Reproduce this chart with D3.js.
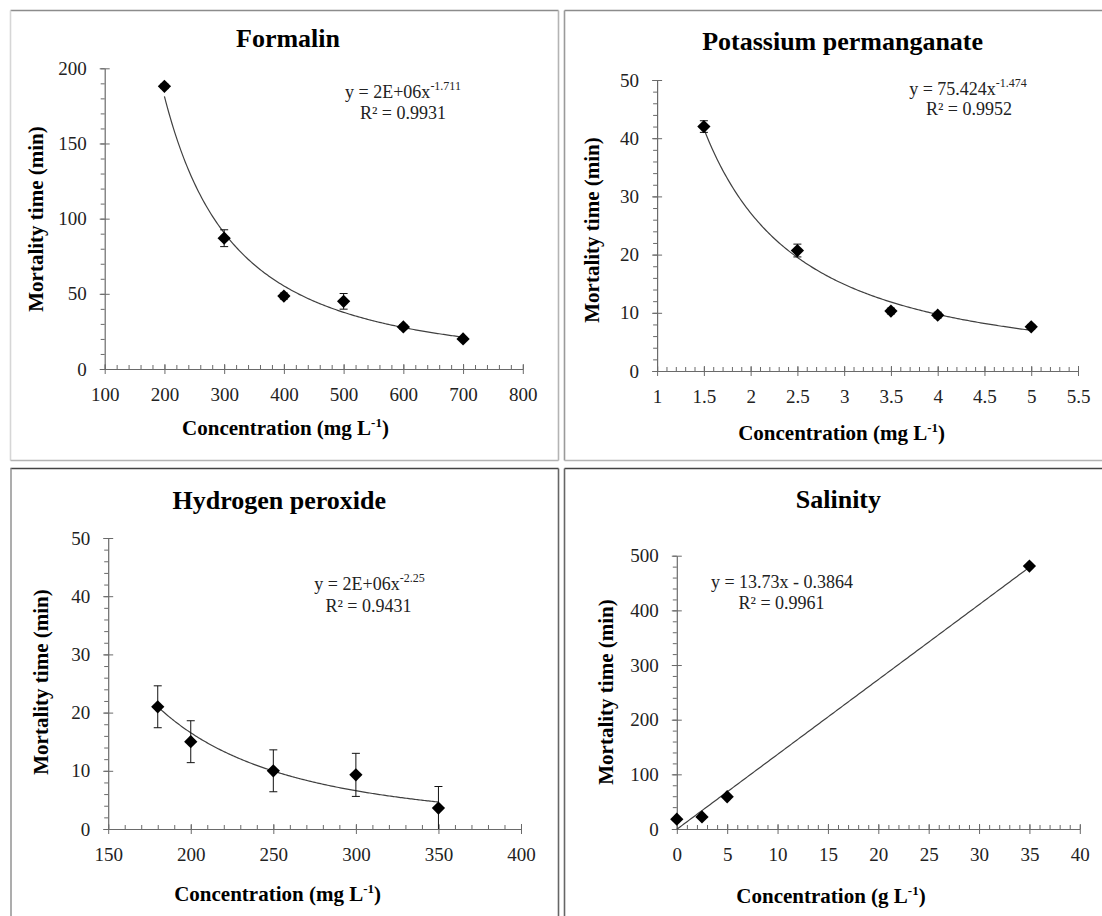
<!DOCTYPE html>
<html><head><meta charset="utf-8">
<script src="https://cdn.jsdelivr.net/npm/d3@7"></script>
<style>
body{margin:0;background:#fff}
svg{display:block}
</style>
</head><body>
<svg id="c" width="1102" height="916" font-family="Liberation Serif"></svg>
<script>
// ---------- data ----------
const formalinConc = [200, 300, 400, 500, 600, 700];
const formalinTime = [188, 87, 48.5, 45, 28, 20];
const formalinErr  = [1.5, 5.6, 2, 5.2, 1.5, 1];

const kmno4Conc = [1.5, 2.5, 3.5, 4, 5];
const kmno4Time = [42, 20.7, 10.3, 9.6, 7.6];
const kmno4Err  = [1, 1.1, 0.5, 0.5, 0.4];

const h2o2Conc = [180, 200, 250, 300, 350];
const h2o2Time = [21, 15, 10, 9.3, 3.6];
const h2o2Err  = [3.6, 3.6, 3.6, 3.7, 3.7];

const salinityConc = [0, 2.5, 5, 35];
const salinityTime = [18, 22, 59, 481];
const salinityErr  = [0.5, 0.5, 1, 2];

const formalinXTicks = [100, 200, 300, 400, 500, 600, 700, 800];
const formalinYTicks = [0, 50, 100, 150, 200];
const kmno4XTicks = [1, 1.5, 2, 2.5, 3, 3.5, 4, 4.5, 5, 5.5];
const kmno4YTicks = [0, 10, 20, 30, 40, 50];
const h2o2XTicks = [150, 200, 250, 300, 350, 400];
const h2o2YTicks = [0, 10, 20, 30, 40, 50];
const salinityXTicks = [0, 5, 10, 15, 20, 25, 30, 35, 40];
const salinityYTicks = [0, 100, 200, 300, 400, 500];

const titles = ["Formalin", "Potassium permanganate", "Hydrogen peroxide", "Salinity"];
const equations = [["y = 2E+06x", "-1.711"], ["y = 75.424x", "-1.474"], ["y = 2E+06x", "-2.25"], ["y = 13.73x - 0.3864", ""]];
const r2Labels = ["R² = 0.9931", "R² = 0.9952", "R² = 0.9431", "R² = 0.9961"];
const xUnits = ["mg L", "mg L", "mg L", "g L"];
const yLabel = "Mortality time (min)";

// ---------- layout ----------
const FONT = 'Liberation Serif';
const panels = [
  {x: formalinConc, y: formalinTime, e: formalinErr, xt: formalinXTicks, yt: formalinYTicks, xMinor: 20, yMinor: 10, fit: 'power',
   px: [104.7, 522.8], py: [369, 68.3], title: [288, 47], xlab: [285.5, 435], ylab: [43, 219], eq: [403, 97.5], r2: [403, 118.5]},
  {x: kmno4Conc, y: kmno4Time, e: kmno4Err, xt: kmno4XTicks, yt: kmno4YTicks, xMinor: 0.1, yMinor: 2, fit: 'power',
   px: [657.1, 1078], py: [371, 80], title: [842.6, 50], xlab: [841.6, 440], ylab: [599, 230], eq: [968, 95], r2: [969, 115]},
  {x: h2o2Conc, y: h2o2Time, e: h2o2Err, xt: h2o2XTicks, yt: h2o2YTicks, xMinor: 10, yMinor: 2, fit: 'power',
   px: [108.2, 521], py: [829, 538], title: [279.3, 509], xlab: [277.6, 901], ylab: [47.5, 682], eq: [369.5, 589.7], r2: [368.5, 612]},
  {x: salinityConc, y: salinityTime, e: salinityErr, xt: salinityXTicks, yt: salinityYTicks, xMinor: 1, yMinor: 20, fit: 'linear',
   px: [676.8, 1079.8], py: [829, 555.7], title: [838.4, 508], xlab: [831, 903], ylab: [613, 692], eq: [782, 588], r2: [781.6, 608.7]}
];

const svg = d3.select('#c');

// panel frames
const frames = [
  [10.5, 10.5, 558.5, 10.5, '#8c8c8c'], [10.5, 10.5, 10.5, 460.5, '#d6d6d6'], [558.5, 10.5, 558.5, 460.5, '#b4b4b4'], [10.5, 460.5, 558.5, 460.5, '#b4b4b4'],
  [564.5, 10.5, 1102, 10.5, '#8c8c8c'], [564.5, 10.5, 564.5, 460.5, '#9a9a9a'], [564.5, 460.5, 1102, 460.5, '#b4b4b4'],
  [10.5, 468.5, 558.5, 468.5, '#444'], [11, 468.5, 11, 916, '#999'], [558.5, 468.5, 558.5, 916, '#666'],
  [564.5, 468.5, 1102, 468.5, '#444'], [564.5, 468.5, 564.5, 916, '#666']
];
svg.selectAll('line.frame').data(frames).join('line').attr('class', 'frame')
  .attr('x1', d => d[0]).attr('y1', d => d[1]).attr('x2', d => d[2]).attr('y2', d => d[3])
  .attr('stroke', d => d[4]).attr('stroke-width', 1.6);

function fitModel(xs, ys, type) {
  if (type === 'linear') {
    const mx = d3.mean(xs), my = d3.mean(ys);
    const sxy = d3.sum(xs, (x, i) => (x - mx) * (ys[i] - my));
    const sxx = d3.sum(xs, x => (x - mx) ** 2);
    const b = sxy / sxx, a = my - b * mx;
    return x => a + b * x;
  }
  const lx = xs.map(Math.log), ly = ys.map(Math.log);
  const mx = d3.mean(lx), my = d3.mean(ly);
  const sxy = d3.sum(lx, (x, i) => (x - mx) * (ly[i] - my));
  const sxx = d3.sum(lx, x => (x - mx) ** 2);
  const b = sxy / sxx, a = Math.exp(my - b * mx);
  return x => a * Math.pow(x, b);
}

const axisColor = '#6a6a6a';
const tickColor = '#222';

panels.forEach((p, i) => {
  const xs = d3.scaleLinear().domain([p.xt[0], p.xt[p.xt.length - 1]]).range(p.px);
  const ys = d3.scaleLinear().domain([p.yt[0], p.yt[p.yt.length - 1]]).range(p.py);
  const g = svg.append('g');

  const xMinorVals = d3.range(Math.round((xs.domain()[1] - xs.domain()[0]) / p.xMinor) + 1)
    .map(k => +(xs.domain()[0] + k * p.xMinor).toFixed(6));
  const yMinorVals = d3.range(Math.round((ys.domain()[1] - ys.domain()[0]) / p.yMinor) + 1)
    .map(k => +(ys.domain()[0] + k * p.yMinor).toFixed(6));

  // minor ticks
  const gxm = g.append('g').attr('transform', `translate(0,${p.py[0]})`)
    .call(d3.axisBottom(xs).tickValues(xMinorVals).tickSize(4).tickFormat(''));
  gxm.select('.domain').remove();
  gxm.selectAll('.tick line').attr('y1', -4).attr('y2', 0).attr('stroke', axisColor);
  const gym = g.append('g').attr('transform', `translate(${p.px[0]},0)`)
    .call(d3.axisLeft(ys).tickValues(yMinorVals).tickSize(4).tickFormat(''));
  gym.select('.domain').remove();
  gym.selectAll('.tick line').attr('stroke', axisColor);

  // major axes
  const gx = g.append('g').attr('transform', `translate(0,${p.py[0]})`)
    .call(d3.axisBottom(xs).tickValues(p.xt).tickSize(5).tickSizeOuter(0).tickPadding(14).tickFormat(d => String(d)));
  gx.attr('font-family', FONT);
  gx.selectAll('.tick line').attr('y1', -5).attr('stroke', axisColor);
  gx.select('.domain').attr('stroke', axisColor).attr('stroke-width', 1.2);
  gx.selectAll('.tick text').attr('font-size', 19).attr('fill', tickColor).attr('font-family', FONT);

  const gy = g.append('g').attr('transform', `translate(${p.px[0]},0)`)
    .call(d3.axisLeft(ys).tickValues(p.yt).tickSize(5).tickSizeOuter(0).tickPadding(13).tickFormat(d => String(d)));
  gy.attr('font-family', FONT);
  gy.selectAll('.tick line').attr('x1', 5).attr('stroke', axisColor);
  gy.select('.domain').attr('stroke', axisColor).attr('stroke-width', 1.2);
  gy.selectAll('.tick text').attr('font-size', 19).attr('fill', tickColor).attr('font-family', FONT);

  // trendline
  const f = fitModel(p.x, p.y, p.fit);
  const x0 = d3.min(p.x), x1 = d3.max(p.x);
  const samples = d3.range(201).map(k => x0 + (x1 - x0) * k / 200);
  g.append('path').datum(samples)
    .attr('d', d3.line().x(d => xs(d)).y(d => ys(f(d))))
    .attr('fill', 'none').attr('stroke', '#404040').attr('stroke-width', 1.2);

  // error bars
  const pts = p.x.map((x, k) => ({x, y: p.y[k], e: p.e[k]}));
  const eb = g.append('g').attr('stroke', '#111').attr('stroke-width', 1);
  pts.forEach(d => {
    const lo = Math.max(ys.domain()[0], d.y - d.e), hi = d.y + d.e;
    eb.append('line').attr('x1', xs(d.x)).attr('x2', xs(d.x)).attr('y1', ys(lo)).attr('y2', ys(hi));
    eb.append('line').attr('x1', xs(d.x) - 4).attr('x2', xs(d.x) + 4).attr('y1', ys(hi)).attr('y2', ys(hi));
    if (d.y - d.e > ys.domain()[0])
      eb.append('line').attr('x1', xs(d.x) - 4).attr('x2', xs(d.x) + 4).attr('y1', ys(lo)).attr('y2', ys(lo));
  });

  // markers
  g.selectAll('path.mk').data(pts).join('path').attr('class', 'mk')
    .attr('d', d3.symbol(d3.symbolSquare, 88)())
    .attr('transform', d => `translate(${xs(d.x)},${ys(d.y)}) rotate(45)`)
    .attr('fill', '#000');

  // title
  g.append('text').attr('x', p.title[0]).attr('y', p.title[1]).attr('text-anchor', 'middle')
    .attr('font-family', FONT).attr('font-size', 26).attr('font-weight', 'bold').attr('fill', '#000').text(titles[i]);

  // x label
  const xl = g.append('text').attr('x', p.xlab[0]).attr('y', p.xlab[1]).attr('text-anchor', 'middle')
    .attr('font-family', FONT).attr('font-size', 21).attr('font-weight', 'bold').attr('fill', '#000');
  xl.append('tspan').text('Concentration (' + xUnits[i]);
  xl.append('tspan').attr('font-size', 13).attr('dy', -8).text('-1');
  xl.append('tspan').attr('dy', 8).text(')');

  // y label
  g.append('text').attr('transform', `translate(${p.ylab[0]},${p.ylab[1]}) rotate(-90)`)
    .attr('text-anchor', 'middle').attr('font-family', FONT).attr('font-size', 21).attr('font-weight', 'bold').attr('fill', '#000')
    .text(yLabel);

  // equation
  const eq = g.append('text').attr('x', p.eq[0]).attr('y', p.eq[1]).attr('text-anchor', 'middle')
    .attr('font-family', FONT).attr('font-size', 18).attr('fill', '#222');
  eq.append('tspan').text(equations[i][0]);
  if (equations[i][1]) eq.append('tspan').attr('font-size', 12).attr('dy', -8).text(equations[i][1]);
  g.append('text').attr('x', p.r2[0]).attr('y', p.r2[1]).attr('text-anchor', 'middle')
    .attr('font-family', FONT).attr('font-size', 18).attr('fill', '#222').text(r2Labels[i]);
});
</script>
</body></html>
